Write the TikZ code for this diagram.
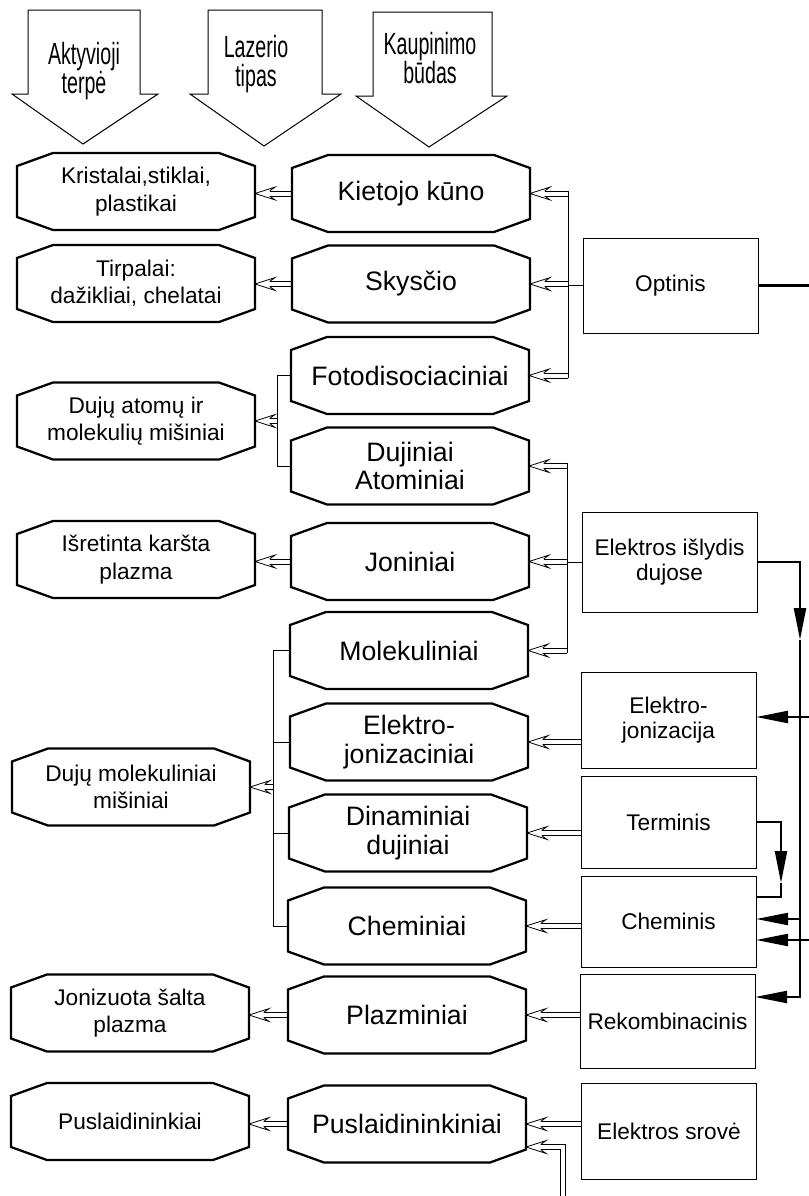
\documentclass[tikz,border=0pt]{standalone}
\usepackage{fontspec}
\setmainfont{Liberation Sans}
\usepackage{graphicx}
\usetikzlibrary{arrows.meta}
\newlength\pxu
\setlength\pxu{0.75pt}
\newcommand\fmid{\fontsize{20}{21.5}\selectfont}
\newcommand\fleft{\fontsize{17}{20.5}\selectfont}
\newcommand\fright{\fontsize{17}{19}\selectfont}
\newcommand\ftop{\fontsize{23}{21.5}\selectfont}
\newcommand\nar[1]{\scalebox{0.64}[1]{#1}}
\newcommand\octo[1]{\draw[octline] ([shift={(36,0)}]#1.north west) -- ([shift={(-36,0)}]#1.north east) -- ([shift={(0,13)}]#1.north east) -- ([shift={(0,-13)}]#1.south east) -- ([shift={(-36,0)}]#1.south east) -- ([shift={(36,0)}]#1.south west) -- ([shift={(0,-13)}]#1.south west) -- ([shift={(0,13)}]#1.north west) -- cycle;}
% leftward double arrow with open head: #1 start (right), #2 tip (left)
\newcommand\dblhead{%
  \draw[dl] ([xshift=11pt,yshift=1.9pt]dB) -- ([xshift=15pt,yshift=4.8pt]dB) -- (dB) -- ([xshift=15pt,yshift=-4.8pt]dB) -- ([xshift=11pt,yshift=-1.9pt]dB);}
\newcommand\dblarr[2]{%
  \path (#1) coordinate (dA) (#2) coordinate (dB);
  \draw[dl] ([yshift=1.9pt]dA) -- ([xshift=11pt,yshift=1.9pt]dB);
  \draw[dl] ([yshift=-1.9pt]dA) -- ([xshift=11pt,yshift=-1.9pt]dB);
  \dblhead}
\begin{document}
\begin{tikzpicture}[x=0.75pt,y=-0.75pt,
  octbox/.style={minimum width=238\pxu, minimum height=77\pxu, inner sep=0pt, outer sep=0pt, align=center},
  midbox/.style={octbox, font=\fmid},
  leftbox/.style={octbox, font=\fleft},
  octline/.style={draw=black, line width=1.7pt, line join=miter},
  rectbox/.style={draw=black, line width=0.7pt, minimum width=175\pxu, inner sep=0pt, outer sep=0pt, align=center, font=\fright},
  blockarrow/.style={draw=black, line width=0.75pt, line join=miter},
  toptext/.style={align=center, font=\ftop, inner sep=0pt},
  dl/.style={draw=black, line width=0.6pt, line join=miter},
  thinline/.style={draw=black, line width=0.6pt},
  fline/.style={draw=black, line width=1.6pt},
  farrow/.style={fline, -{Triangle[length=24pt,width=9pt]}}
]
\useasboundingbox (0,0) rectangle (809,1196);
% block arrows
\draw[blockarrow] (28,10) -- (140,10) -- (140,94) -- (158,94) -- (83,144) -- (12,94) -- (28,94) -- cycle;
\draw[blockarrow] (208,10) -- (322,10) -- (322,94) -- (341,94) -- (264,146) -- (190,94) -- (208,94) -- cycle;
\draw[blockarrow] (373,12) -- (492,12) -- (492,96) -- (507,96) -- (429,147) -- (356,96) -- (373,96) -- cycle;
\node[toptext] (t1) at (84,71) {\nar{Aktyvioji}\\\nar{terpė}};
\node[toptext] (t2) at (256,64) {\nar{Lazerio}\\\nar{tipas}};
\node[toptext] (t3) at (430,58) {\nar{Kaupinimo}\\\nar{būdas}};
% middle column
\node[midbox] (m1) at (411,193.5) {Kietojo kūno};
\node[midbox] (m2) at (411,284) {Skysčio};
\node[midbox] (m3) at (410,375.5) {Fotodisociaciniai};
\node[midbox] (m4) at (410,466) {Dujiniai\\Atominiai};
\node[midbox] (m5) at (410,561.5) {Joniniai};
\node[midbox] (m6) at (409,650.5) {Molekuliniai};
\node[midbox] (m7) at (409,742) {Elektro-\\jonizaciniai};
\node[midbox] (m8) at (408,833) {Dinaminiai\\dujiniai};
\node[midbox] (m9) at (407,926) {Cheminiai};
\node[midbox] (m10) at (407,1015) {Plazminiai};
\node[midbox] (m11) at (407,1124) {Puslaidininkiniai};
% left column
\node[leftbox] (l1) at (136,191.5) {Kristalai,stiklai,\\plastikai};
\node[leftbox] (l2) at (136,283.5) {Tirpalai:\\dažikliai, chelatai};
\node[leftbox] (l3) at (136,421) {Dujų atomų ir\\molekulių mišiniai};
\node[leftbox] (l4) at (136,559.5) {Išretinta karšta\\plazma};
\node[leftbox] (l5) at (131,787) {Dujų molekuliniai\\mišiniai};
\node[leftbox] (l6) at (130,1013) {Jonizuota šalta\\plazma};
\node[leftbox] (l7) at (130,1121.5) {Puslaidininkiai};
\foreach \n in {m1,m2,m3,m4,m5,m6,m7,m8,m9,m10,m11,l1,l2,l3,l4,l5,l6,l7} {\octo{\n}}
% right column
\node[rectbox, minimum height=95\pxu] (r1) at (670.5,285.5) {Optinis};
\node[rectbox, minimum height=100\pxu] (r2) at (669.5,562) {Elektros išlydis\\dujose};
\node[rectbox, minimum height=96\pxu] (r3) at (668.5,720) {Elektro-\\jonizacija};
\node[rectbox, minimum height=92\pxu] (r4) at (668.5,822) {Terminis};
\node[rectbox, minimum height=91\pxu] (r5) at (668.5,921.5) {Cheminis};
\node[rectbox, minimum height=94\pxu] (r6) at (667.5,1021) {Rekombinacinis};
\node[rectbox, minimum height=96\pxu] (r7) at (669,1131) {Elektros srovė};
% middle -> left
\dblarr{m1.west}{l1.east |- m1.west}
\dblarr{m2.west}{l2.east |- m2.west}
\dblarr{m5.west}{l4.east |- m5.west}
\dblarr{m10.west}{l6.east |- m10.west}
\dblarr{m11.west}{l7.east |- m11.west}
% bracket 1
\coordinate (k1) at (277,421);
\draw[thinline] (m3.west) -- (m3.west -| k1) -- (m4.west -| k1) -- (m4.west);
\dblarr{k1}{l3.east |- k1}
% bracket 2
\coordinate (k2) at (273,787);
\draw[thinline] (m6.west) -- (m6.west -| k2) -- (m9.west -| k2) -- (m9.west);
\draw[thinline] (m7.west) -- (m7.west -| k2);
\draw[thinline] (m8.west) -- (m8.west -| k2);
\dblarr{k2}{l5.east |- k2}
% Optinis bus
\coordinate (ob) at (568,285.5);
\draw[thinline] (r1.west) -- (ob);
\draw[thinline] ([yshift=1.9pt]m1.east -| ob) -- ([yshift=-1.9pt]m3.east -| ob);
\dblarr{m1.east -| ob}{m1.east}
\dblarr{m2.east -| ob}{m2.east}
\dblarr{m3.east -| ob}{m3.east}
\coordinate (oR) at (809,285.5);
\draw[fline] (r1.east) -- (oR);
% Elektros islydis bus
\coordinate (eb) at (567,562);
\draw[thinline] (r2.west) -- (eb);
\path (m4.east -| eb) coordinate (eb1) (m6.east -| eb) coordinate (eb2);
\draw[thinline] ([yshift=1.9pt]eb1) -- ([yshift=-1.9pt]eb2);
\dblarr{eb1}{m4.east}
\dblarr{m5.east -| eb}{m5.east}
\dblarr{eb2}{m6.east}
% right -> middle
\dblarr{r3.west |- m7.east}{m7.east}
\dblarr{r4.west |- m8.east}{m8.east}
\dblarr{r5.west |- m9.east}{m9.east}
\dblarr{r6.west |- m10.east}{m10.east}
\dblarr{r7.west |- m11.east}{m11.east}
% bottom L-shaped double arrow
\coordinate (pb) at (563,1196);
\coordinate (pc) at (563,1147);
\path (m11.east |- pc) coordinate (dB);
\draw[dl] ([xshift=1.9pt]pb) -- ([xshift=1.9pt,yshift=1.9pt]pc) -- ([xshift=11pt,yshift=1.9pt]dB);
\draw[dl] ([xshift=-1.9pt]pb) -- ([xshift=-1.9pt,yshift=-1.9pt]pc) -- ([xshift=11pt,yshift=-1.9pt]dB);
\dblhead
% right bus
\coordinate (bA) at (800,562);
\coordinate (bB) at (800,640);
\coordinate (bC) at (800,997);
\draw[farrow] (r2.east) -- (bA) -- (bB);
\draw[farrow] (bB) -- (bC) -- (r6.east |- bC);
\coordinate (ej0) at (809,717);
\draw[farrow] (ej0) -- (r3.east |- ej0);
\coordinate (b2) at (800,919);
\draw[farrow] (b2) -- (r5.east |- b2);
\coordinate (ch0) at (809,940);
\draw[farrow] (ch0) -- (r5.east |- ch0);
% Terminis -> Cheminis
\coordinate (tpA) at (781,822);
\coordinate (tpB) at (781,883);
\coordinate (tpC) at (781,897);
\draw[farrow] (r4.east) -- (tpA) -- (tpB);
\draw[fline] (tpB) -- (tpC) -- (r5.east |- tpC);
\end{tikzpicture}
\end{document}
